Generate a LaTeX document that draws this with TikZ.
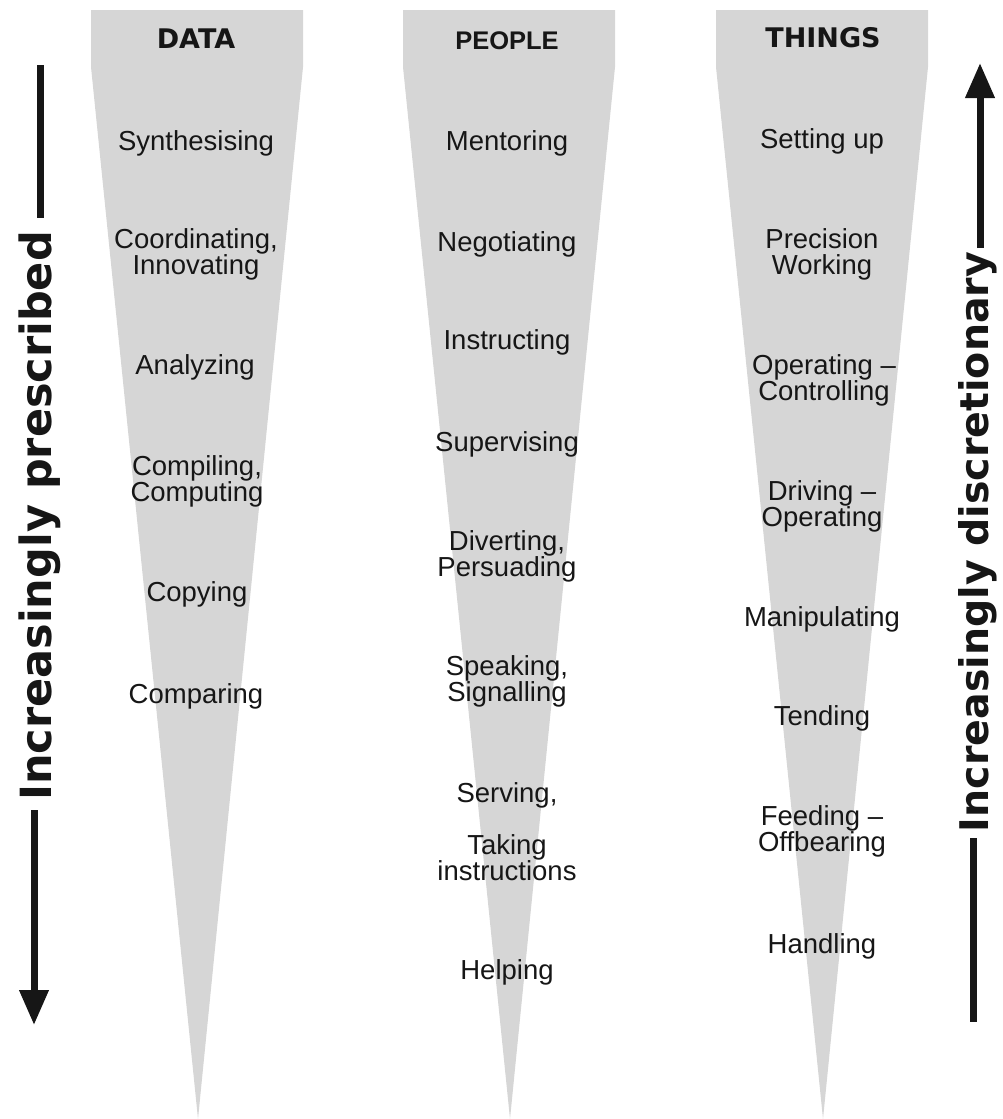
\documentclass[tikz,border=0pt]{standalone}
\usepackage{fontspec}
\setmainfont{Liberation Sans}
\newfontfamily\comicfont{DejaVu Sans}
\usetikzlibrary{arrows.meta}
\definecolor{tri}{RGB}{214,214,214}
\definecolor{ink}{RGB}{22,22,22}
\newcommand\mytightlines{\lineskiplimit=-100pt\relax\lineskip=0pt\relax}
\begin{document}
\begin{tikzpicture}[x=1pt,y=-1pt,
  lbl/.style={font=\fontsize{27.5}{26}\selectfont\mytightlines, text=ink, align=center, inner sep=0pt},
  hdr/.style={text=ink, inner sep=0pt, font=\comicfont\bfseries\fontsize{27}{27}\selectfont},
  hdrb/.style={text=ink, inner sep=0pt, font=\bfseries\fontsize{25.5}{25.5}\selectfont},
  side/.style={text=ink, inner sep=0pt, rotate=90, anchor=base},
  bar/.style={line width=7pt, draw=ink},
  tip/.style={-{Triangle[width=28pt,length=35pt]}},
  wedge/.style={fill=tri, draw=none}
]
\useasboundingbox (0,0) rectangle (1002,1119);

% wedges
\fill[wedge] (91,10) -- (303,10) -- (303,67) -- (198,1119) -- (91,67) -- cycle;
\fill[wedge] (403,10) -- (615,10) -- (615,67) -- (510,1119) -- (403,67) -- cycle;
\fill[wedge] (716,10) -- (928,10) -- (928,67) -- (823,1119) -- (716,67) -- cycle;

% headings
\node[hdr]  (data)   at (196,39) {DATA};
\node[hdrb] (people) at (507,41) {PEOPLE};
\node[hdr]  (things) at (823,38) {THINGS};

% DATA column
\node[lbl] (d1) at (196,143) {Synthesising};
\node[lbl] (d2) at (196,254) {Coordinating,\\Innovating};
\node[lbl] (d3) at (195,367) {Analyzing};
\node[lbl] (d4) at (197,481) {Compiling,\\Computing};
\node[lbl] (d5) at (197,594) {Copying};
\node[lbl] (d6) at (196,696) {Comparing};

% PEOPLE column
\node[lbl] (p1) at (507,143) {Mentoring};
\node[lbl] (p2) at (507,244) {Negotiating};
\node[lbl] (p3) at (507,342) {Instructing};
\node[lbl] (p4) at (507,444) {Supervising};
\node[lbl] (p5) at (507,556) {Diverting,\\Persuading};
\node[lbl] (p6) at (507,681) {Speaking,\\Signalling};
\node[lbl] (p7) at (507,795) {Serving,};
\node[lbl] (p8) at (507,858) {Taking\\instructions};
\node[lbl] (p9) at (507,972) {Helping};

% THINGS column
\node[lbl] (t1) at (822,141) {Setting up};
\node[lbl] (t2) at (822,254) {Precision\\Working};
\node[lbl] (t3) at (824,380) {Operating --\\Controlling};
\node[lbl] (t4) at (822,506) {Driving --\\Operating};
\node[lbl] (t5) at (822,619) {Manipulating};
\node[lbl] (t6) at (822,718) {Tending};
\node[lbl] (t7) at (822,831) {Feeding --\\Offbearing};
\node[lbl] (t8) at (822,946) {Handling};

% side labels
\node[side, font=\comicfont\bfseries\fontsize{43}{43}\selectfont] (lefttext) at (51,516) {Increasingly prescribed};
\node[side, font=\comicfont\bfseries\fontsize{39.5}{39.5}\selectfont] (righttext) at (988,542) {Increasingly discretionary};

% left arrow
\coordinate (la1) at (40,65);
\coordinate (la2) at (40,218);
\coordinate (la3) at (34,810);
\coordinate (la4) at (34,1025);
\draw[bar] (la1) -- (la2);
\draw[bar, tip] (la3) -- (la4);

% right arrow
\coordinate (ra1) at (980,248);
\coordinate (ra2) at (980,63);
\coordinate (ra3) at (973,838);
\coordinate (ra4) at (973,1022);
\draw[bar, tip] (ra1) -- (ra2);
\draw[bar] (ra3) -- (ra4);
\end{tikzpicture}
\end{document}
